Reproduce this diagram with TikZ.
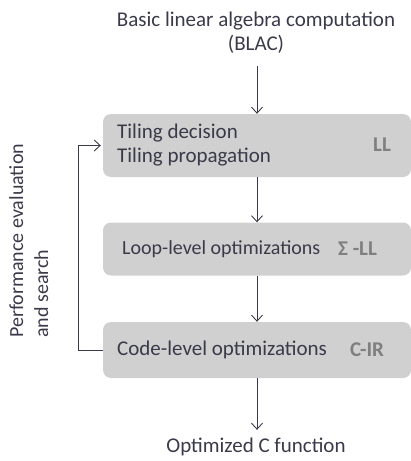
\documentclass[tikz,border=0pt]{standalone}
\usepackage{fontspec}
\setmainfont{Carlito}
\usetikzlibrary{arrows.meta}
\definecolor{ink}{HTML}{3A3A4A}
\definecolor{boxgray}{HTML}{D0D0D0}
\definecolor{tag}{HTML}{7F7F7F}
\begin{document}
\begin{tikzpicture}[x=1pt,y=-1pt,
  every node/.style={inner sep=0pt, text=ink, font=\fontsize{21}{24}\selectfont},
  stage/.style={fill=boxgray, rounded corners=8pt, minimum width=308pt},
  tagtext/.style={text=tag, font=\fontsize{21}{24}\selectfont\bfseries},
  arr/.style={draw=ink, line width=0.9pt, -{Straight Barb[length=6pt,width=11pt]}}]
\useasboundingbox (0,0) rectangle (411,461);
\node[stage, minimum height=63pt] (box1) at (257,145.5) {};
\node[stage, minimum height=53pt] (box2) at (257,249) {};
\node[stage, minimum height=56pt] (box3) at (257,350) {};
\node[align=center] (title) at (256,33) {Basic linear algebra computation\\(BLAC)};
\node[align=left, anchor=west] (t1) at (117,145) {Tiling decision\\Tiling propagation};
\node[tagtext] (l1) at (382,145) {LL};
\node[anchor=west, font=\fontsize{20}{24}\selectfont] (t2) at (122,249) {Loop-level optimizations};
\node[tagtext, anchor=west] (l2) at (338,249) {Σ -LL};
\node[anchor=west] (t3) at (117,350) {Code-level optimizations};
\node[tagtext, anchor=west] (l3) at (350,350) {C-IR};
\node (out) at (256,447) {Optimized C function};
\node[align=left, rotate=90, anchor=north west, font=\fontsize{20}{25}\selectfont] (perf) at (9,338) {Performance evaluation\\and search};
\coordinate (fb) at (78,0);
\draw[arr, shorten <=12pt] (title.south -| box1.north) -- (box1.north);
\draw[arr] (box1.south) -- (box2.north);
\draw[arr] (box2.south) -- (box3.north);
\draw[arr, shorten >=8pt] (box3.south) -- (box3.south |- out.north);
\draw[arr, shorten >=2pt] (box3.west) -- (box3.west -| fb) -- (box1.west -| fb) -- (box1.west);
\end{tikzpicture}
\end{document}
